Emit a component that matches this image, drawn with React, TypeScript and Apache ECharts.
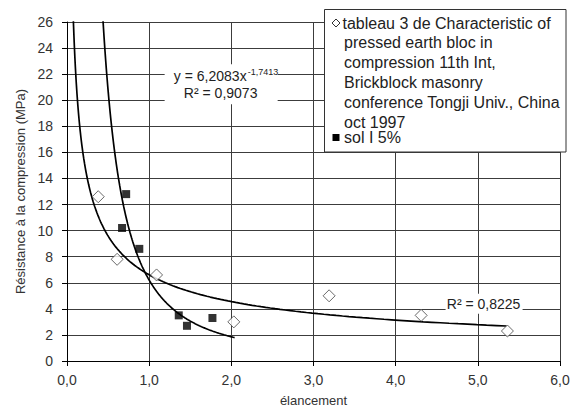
import React, { useEffect, useRef } from "react";
import * as echarts from "echarts";

// ---- data ----
const tableauX = [0.38, 0.61, 1.09, 2.03, 3.19, 4.31, 5.36];
const tableauY = [12.6, 7.8, 6.6, 3.0, 5.0, 3.5, 2.3];
const solX = [0.72, 0.67, 0.88, 1.36, 1.46, 1.77];
const solY = [12.8, 10.2, 8.6, 3.5, 2.7, 3.3];

// power trendlines y = a * x^b
const trendTableauCoef = [6.61, -0.537];
const trendTableauRange = [0.05, 5.35];
const trendSolCoef = [6.2083, -1.7413];
const trendSolRange = [0.4, 2.04];

const xTicks = [0, 1, 2, 3, 4, 5, 6];
const yTicks = [0, 2, 4, 6, 8, 10, 12, 14, 16, 18, 20, 22, 24, 26];

const tableauName =
  "tableau 3 de Characteristic of pressed earth bloc in compression 11th Int, Brickblock masonry conference Tongji Univ., China oct 1997";
const solName = "sol I 5%";
const legendLines = [
  "tableau 3 de Characteristic of",
  "pressed earth bloc in",
  "compression 11th Int,",
  "Brickblock masonry",
  "conference Tongji Univ., China",
  "oct 1997",
];

const eqMain = "y = 6,2083x";
const eqExp = "-1,7413";
const r2Sol = "R² = 0,9073";
const r2Tableau = "R² = 0,8225";

const FONT = "'Liberation Sans', Arial, sans-serif";

function powerCurve(coef: number[], range: number[], n: number) {
  const pts: number[][] = [];
  const l0 = Math.log(range[0]);
  const l1 = Math.log(range[1]);
  for (let i = 0; i <= n; i++) {
    const x = Math.exp(l0 + ((l1 - l0) * i) / n);
    pts.push([x, coef[0] * Math.pow(x, coef[1])]);
  }
  return pts;
}

export default function App() {
  const ref = useRef<HTMLDivElement>(null);
  useEffect(() => {
    if (!ref.current) return;
    const chart = echarts.init(ref.current, undefined, { renderer: "svg" });
    const gridColor = "#3c3c3c";
    const option: any = {
      animation: false,
      backgroundColor: "#fff",
      textStyle: { fontFamily: FONT },
      grid: { left: 67, right: 23, top: 22, bottom: 50, containLabel: false },
      xAxis: {
        type: "value",
        min: xTicks[0],
        max: xTicks[xTicks.length - 1],
        interval: 1,
        name: "élancement",
        nameLocation: "middle",
        nameGap: 33,
        nameTextStyle: { fontSize: 13, color: "#333", fontFamily: FONT },
        axisLine: { show: true, onZero: false, lineStyle: { color: "#000", width: 1 } },
        axisTick: { show: true, inside: false, length: 5, lineStyle: { color: "#000" } },
        axisLabel: {
          fontSize: 14,
          color: "#333",
          margin: 12,
          fontFamily: FONT,
          formatter: (v: number) => v.toFixed(1).replace(".", ","),
        },
        splitLine: { show: true, lineStyle: { color: gridColor, width: 1 } },
      },
      yAxis: {
        type: "value",
        min: yTicks[0],
        max: yTicks[yTicks.length - 1],
        interval: 2,
        name: "Résistance à la compression (MPa)",
        nameLocation: "middle",
        nameGap: 38,
        nameTextStyle: { fontSize: 13, color: "#333", fontFamily: FONT },
        axisLine: { show: true, onZero: false, lineStyle: { color: "#000", width: 1 } },
        axisTick: { show: true, inside: false, length: 5, lineStyle: { color: "#000" } },
        axisLabel: { fontSize: 14, color: "#333", margin: 14, fontFamily: FONT },
        splitLine: { show: true, lineStyle: { color: gridColor, width: 1 } },
      },
      series: [
        {
          name: tableauName + " (tendance)",
          type: "line",
          data: powerCurve(trendTableauCoef, trendTableauRange, 200),
          showSymbol: false,
          symbol: "none",
          clip: true,
          lineStyle: { color: "#000", width: 1.7 },
          z: 3,
          silent: true,
        },
        {
          name: solName + " (tendance)",
          type: "line",
          data: powerCurve(trendSolCoef, trendSolRange, 200),
          showSymbol: false,
          symbol: "none",
          clip: true,
          lineStyle: { color: "#000", width: 1.7 },
          z: 3,
          silent: true,
        },
        {
          name: tableauName,
          type: "scatter",
          data: tableauX.map((x, i) => [x, tableauY[i]]),
          symbol: "diamond",
          symbolSize: [12, 12],
          itemStyle: { color: "#fff", borderColor: "#444", borderWidth: 1 },
          z: 4,
        },
        {
          name: solName,
          type: "scatter",
          data: solX.map((x, i) => [x, solY[i]]),
          symbol: "rect",
          symbolSize: 8,
          itemStyle: { color: "#000" },
          z: 4,
        },
      ],
    };
    chart.setOption(option);

    const p1 = chart.convertToPixel({ gridIndex: 0 }, [1.87, 22]) as number[];
    const p2 = chart.convertToPixel({ gridIndex: 0 }, [5.07, 4.4]) as number[];

    const txt = (x: number, y: number, text: string, size: number, align: string) => ({
      type: "text",
      x,
      y,
      z: 101,
      style: {
        text,
        fontSize: size,
        fontFamily: FONT,
        fill: "#222",
        align,
        verticalAlign: "middle",
      },
    });

    const legendX = 324.5;
    const legendY = 9.5;
    const graphic: any[] = [
      // equation label for sol I 5%
      {
        type: "rect",
        z: 100,
        shape: { x: p1[0] - 56, y: p1[1] - 10, width: 113, height: 40 },
        style: { fill: "#fff" },
      },
      txt(p1[0] + 26, p1[1] + 1.5, eqMain, 14, "right"),
      txt(p1[0] + 27, p1[1] - 2.5, eqExp, 9, "left"),
      txt(p1[0], p1[1] + 19, r2Sol, 14, "center"),
      // R² label for tableau
      {
        type: "rect",
        z: 100,
        shape: { x: p2[0] - 38, y: p2[1] - 10, width: 77, height: 20 },
        style: { fill: "#fff" },
      },
      txt(p2[0], p2[1], r2Tableau, 14, "center"),
      // legend box
      {
        type: "rect",
        z: 100,
        shape: { x: legendX, y: legendY, width: 241.5, height: 142.5 },
        style: { fill: "#fff", stroke: "#333", lineWidth: 1 },
      },
      {
        type: "polygon",
        z: 101,
        shape: {
          points: [
            [legendX + 11.5, legendY + 9.5],
            [legendX + 15.5, legendY + 13.5],
            [legendX + 11.5, legendY + 17.5],
            [legendX + 7.5, legendY + 13.5],
          ],
        },
        style: { fill: "#fff", stroke: "#333", lineWidth: 1 },
      },
      {
        type: "rect",
        z: 101,
        shape: { x: legendX + 8, y: legendY + 124.5, width: 7, height: 7 },
        style: { fill: "#000" },
      },
      ...legendLines.map((line, i) =>
        txt(legendX + (i === 0 ? 18 : 19.5), legendY + 13.5 + i * 19.8, line, 16, "left")
      ),
      txt(legendX + 19.5, legendY + 128, solName, 16, "left"),
    ];
    chart.setOption({ graphic });

    return () => chart.dispose();
  }, []);
  return (
    <div
      ref={ref}
      style={{ position: "fixed", left: 0, top: 0, width: 583, height: 412, background: "#fff" }}
    />
  );
}
